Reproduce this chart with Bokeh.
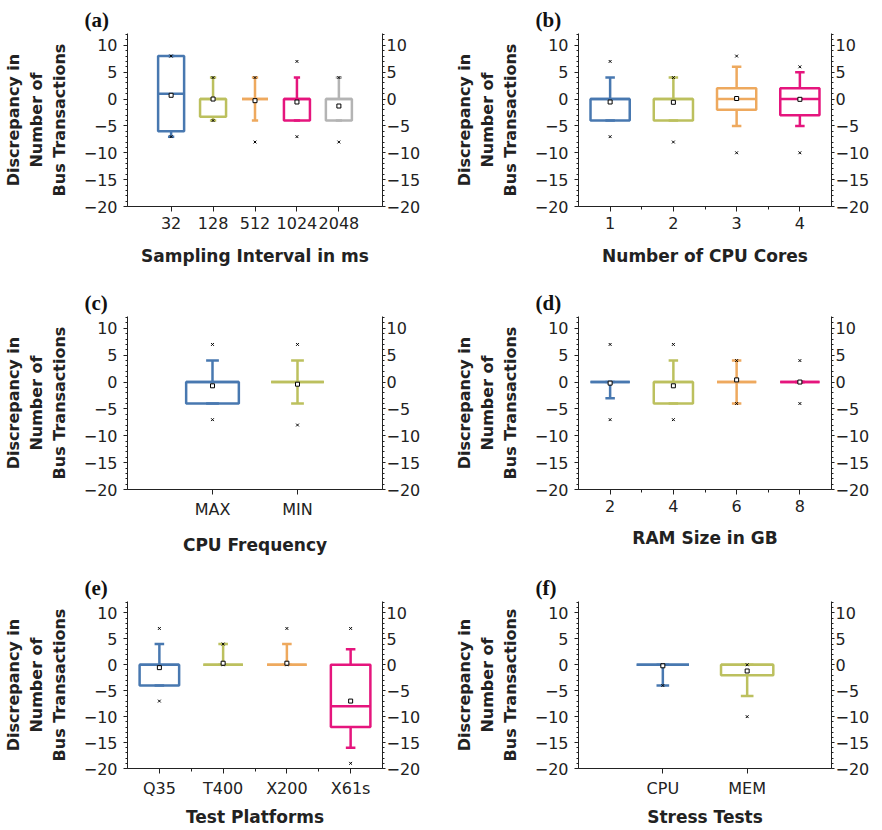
from bokeh.plotting import figure
from bokeh.layouts import column, row
from bokeh.models import LinearAxis, FixedTicker, Range1d, ColumnDataSource
from bokeh.embed import file_html
from bokeh.resources import INLINE

# ---------------- data ----------------
colors = ["#4878b0", "#bcc05e", "#eea95e", "#e5157d", "#b4b4b4"]

a_cats = ["32", "128", "512", "1024", "2048"]
a_q1 = [-6, -3.3, 0, -4, -4]
a_med = [1, 0, 0, 0, 0]
a_q3 = [8, 0, 0, 0, 0]
a_lo = [-7, -4, -4, -4, -4]
a_hi = [8, 4, 4, 4, 4]
a_mean = [0.7, 0, -0.3, -0.55, -1.3]
a_min = [-7, -4, -8, -7, -8]
a_max = [8, 4, 4, 7, 4]

b_cats = ["1", "2", "3", "4"]
b_q1 = [-4, -4, -2, -3]
b_med = [0, 0, 0, 0]
b_q3 = [0, 0, 2, 2]
b_lo = [-4, -4, -5, -5]
b_hi = [4, 4, 6, 5]
b_mean = [-0.55, -0.6, 0.1, -0.05]
b_min = [-7, -8, -10, -10]
b_max = [7, 4, 8, 6]

c_cats = ["MAX", "MIN"]
c_q1 = [-4, 0]
c_med = [0, 0]
c_q3 = [0, 0]
c_lo = [-4, -4]
c_hi = [4, 4]
c_mean = [-0.7, -0.4]
c_min = [-7, -8]
c_max = [7, 7]

d_cats = ["2", "4", "6", "8"]
d_q1 = [0, -4, 0, 0]
d_med = [0, 0, 0, 0]
d_q3 = [0, 0, 0, 0]
d_lo = [-3, -4, -4, 0]
d_hi = [0, 4, 4, 0]
d_mean = [-0.2, -0.7, 0.4, 0]
d_min = [-7, -7, -4, -4]
d_max = [7, 7, 4, 4]

e_cats = ["Q35", "T400", "X200", "X61s"]
e_q1 = [-4, 0, 0, -12]
e_med = [0, 0, 0, -8]
e_q3 = [0, 0, 0, 0]
e_lo = [-4, 0, 0, -16]
e_hi = [4, 4, 4, 3]
e_mean = [-0.55, 0.3, 0.3, -7]
e_min = [-7, 0, 0, -19]
e_max = [7, 4, 7, 7]

f_cats = ["CPU", "MEM"]
f_q1 = [0, -2]
f_med = [0, 0]
f_q3 = [0, 0]
f_lo = [-4, -6]
f_hi = [0, 0]
f_mean = [-0.2, -1.2]
f_min = [-4, -10]
f_max = [0, 0]

y_ticks = [-20, -15, -10, -5, 0, 5, 10]
y_label = "Discrepancy in\nNumber of\nBus Transactions"

FONT = "DejaVu Sans"
INK = "#222222"


def style_y_axis(ax, left=True):
    ax.ticker = FixedTicker(ticks=y_ticks, minor_ticks=list(range(-20, 13)))
    ax.major_label_overrides = {t: (("\u2212" + str(-t)) if t < 0 else str(t)) for t in y_ticks}
    ax.major_label_text_font = FONT
    ax.major_label_text_font_size = "16px"
    ax.major_label_text_color = INK
    ax.axis_line_color = INK
    ax.major_tick_line_color = INK
    ax.minor_tick_line_color = INK
    ax.major_tick_in = 0
    ax.minor_tick_in = 0
    ax.minor_tick_out = 2
    if left:
        ax.major_tick_out = 4
        ax.major_label_standoff = 6
    else:
        ax.major_tick_out = 3
        ax.major_label_standoff = 1


def panel(tag, cats, q1, med, q3, lo, hi, mean, mn, mx, xr, xlabel, col, height, top, bottom,
          minor_x, lab_standoff):
    n = len(cats)
    xs = list(range(n))
    if col == 0:
        w, bl, br = 433, 127, 51
    else:
        w, bl, br = 441, 145, 43
    p = figure(width=w, height=height, output_backend="svg", toolbar_location=None,
               x_range=Range1d(*xr), y_range=Range1d(-20, 12.2),
               min_border_left=bl, min_border_right=br, min_border_top=top, min_border_bottom=bottom)
    p.grid.visible = False
    p.outline_line_color = None
    p.background_fill_color = "white"
    p.border_fill_color = "white"

    p.title.text = tag
    p.title.align = "left"
    p.title.offset = -43
    p.title.standoff = 3
    p.title.text_font = "Liberation Serif"
    p.title.text_font_style = "bold"
    p.title.text_font_size = "21px"
    p.title.text_color = "#111111"

    cols = colors[:n]
    bw = 0.31
    cw = 0.075
    src = ColumnDataSource(dict(
        x=xs, l=[x - bw for x in xs], r=[x + bw for x in xs],
        cl=[x - cw for x in xs], cr=[x + cw for x in xs],
        q1=q1, med=med, q3=q3, lo=lo, hi=hi, mean=mean, mn=mn, mx=mx, c=cols))
    lw = 2.5
    # whiskers
    p.segment(x0="x", x1="x", y0="q3", y1="hi", source=src, line_color="c", line_width=lw)
    p.segment(x0="x", x1="x", y0="q1", y1="lo", source=src, line_color="c", line_width=lw)
    p.segment(x0="cl", x1="cr", y0="hi", y1="hi", source=src, line_color="c", line_width=lw)
    p.segment(x0="cl", x1="cr", y0="lo", y1="lo", source=src, line_color="c", line_width=lw)
    # boxes
    p.quad(left="l", right="r", top="q3", bottom="q1", source=src, fill_color="white",
           fill_alpha=0, line_color="c", line_width=lw)
    p.segment(x0="l", x1="r", y0="med", y1="med", source=src, line_color="c", line_width=lw)
    # extremes and means
    p.scatter(x="x", y="mn", source=src, marker="x", size=4, line_color="black", line_width=1)
    p.scatter(x="x", y="mx", source=src, marker="x", size=4, line_color="black", line_width=1)
    p.scatter(x="x", y="mean", source=src, marker="square", size=4, line_color="black",
              fill_color="white", line_width=1)

    # x axis
    xa = p.xaxis[0]
    xa.ticker = FixedTicker(ticks=xs, minor_ticks=([x + 0.5 for x in xs[:-1]] if minor_x else []))
    xa.major_label_overrides = {x: c for x, c in zip(xs, cats)}
    xa.major_label_text_font = FONT
    xa.major_label_text_font_size = "16px"
    xa.major_label_text_color = INK
    xa.axis_line_color = INK
    xa.major_tick_line_color = INK
    xa.minor_tick_line_color = INK
    xa.major_tick_in = 0
    xa.major_tick_out = 5
    xa.minor_tick_in = 0
    xa.minor_tick_out = 3
    xa.major_label_standoff = 5
    xa.axis_label = xlabel
    xa.axis_label_text_font = FONT
    xa.axis_label_text_font_style = "bold"
    xa.axis_label_text_font_size = "17px"
    xa.axis_label_text_color = INK
    xa.axis_label_standoff = lab_standoff

    ya = p.yaxis[0]
    style_y_axis(ya, left=True)
    ya.axis_label = y_label
    ya.axis_label_text_font = FONT
    ya.axis_label_text_font_style = "bold"
    ya.axis_label_text_font_size = "16px"
    ya.axis_label_text_color = INK
    ya.axis_label_standoff = 12

    ra = LinearAxis()
    style_y_axis(ra, left=False)
    p.add_layout(ra, "right")
    return p


pa = panel("(a)", a_cats, a_q1, a_med, a_q3, a_lo, a_hi, a_mean, a_min, a_max, (-1.04, 5.04),
           "Sampling Interval in ms", 0, 282, 33, 76, False, 14)
pb = panel("(b)", b_cats, b_q1, b_med, b_q3, b_lo, b_hi, b_mean, b_min, b_max, (-0.5, 3.5),
           "Number of CPU Cores", 1, 282, 33, 76, True, 14)
pc = panel("(c)", c_cats, c_q1, c_med, c_q3, c_lo, c_hi, c_mean, c_min, c_max, (-1, 2),
           "CPU Frequency", 0, 284, 34, 77, False, 13)
pd = panel("(d)", d_cats, d_q1, d_med, d_q3, d_lo, d_hi, d_mean, d_min, d_max, (-0.5, 3.5),
           "RAM Size in GB", 1, 284, 34, 77, True, 13)
pe = panel("(e)", e_cats, e_q1, e_med, e_q3, e_lo, e_hi, e_mean, e_min, e_max, (-0.5, 3.5),
           "Test Platforms", 0, 263, 35, 55, True, 6)
pf = panel("(f)", f_cats, f_q1, f_med, f_q3, f_lo, f_hi, f_mean, f_min, f_max, (-1, 2),
           "Stress Tests", 1, 263, 35, 55, False, 6)

layout = column(row(pa, pb), row(pc, pd), row(pe, pf))
open("out.html", "w").write(file_html(layout, INLINE))
